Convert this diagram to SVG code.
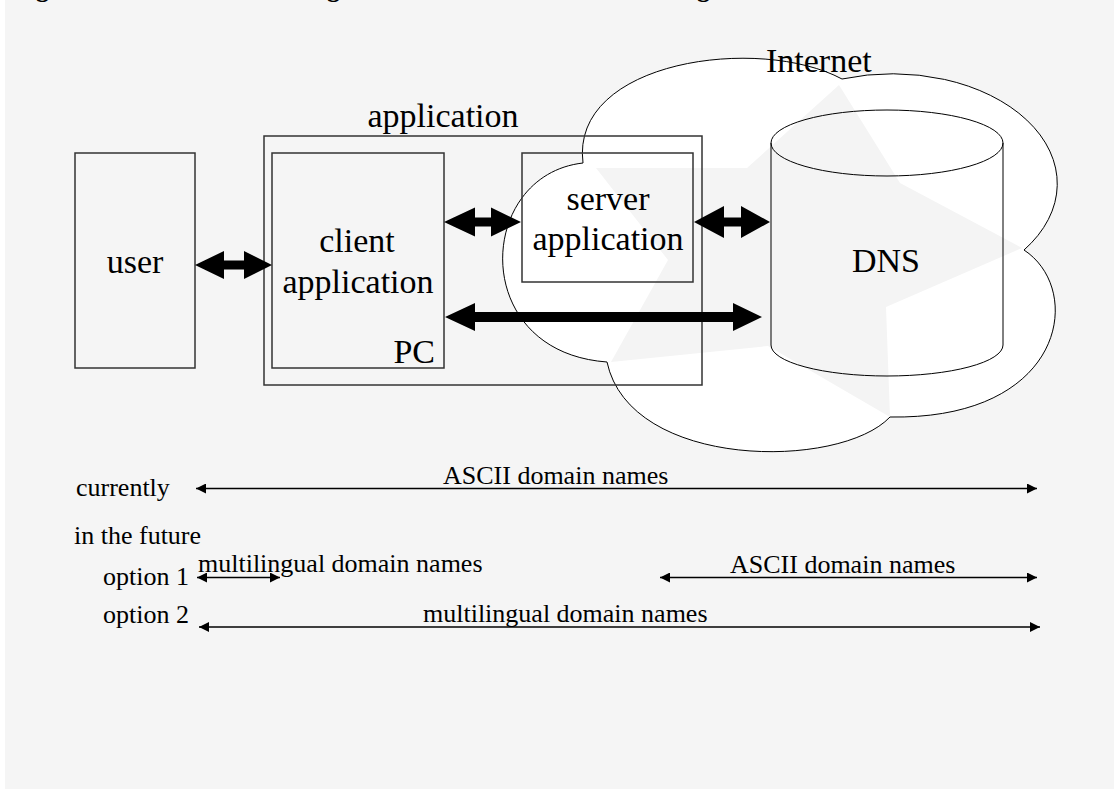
<svg xmlns="http://www.w3.org/2000/svg" width="1114" height="789" viewBox="0 0 1114 789">
  <style>
    .lbl { font-family: "Liberation Serif", "Times New Roman", serif; font-size: 34px; fill: #000; }
    .sm { font-family: "Liberation Serif", "Times New Roman", serif; font-size: 26px; fill: #000; }
    .ttl { font-family: "Liberation Serif", "Times New Roman", serif; font-size: 26px; font-weight: bold; fill: #000; }
    .box { fill: none; stroke: #333; stroke-width: 1.5; }
    .thick { fill: #000; stroke: none; }
    .thin { fill: none; stroke: #000; stroke-width: 1.3; marker-start: url(#tip); marker-end: url(#tip); }
  </style>
  <defs>
    <marker id="tip" viewBox="0 0 10 10" refX="10" refY="5" markerWidth="11" markerHeight="10" markerUnits="userSpaceOnUse" orient="auto-start-reverse">
      <path d="M0,0 L10,5 L0,10 z" fill="#000"/>
    </marker>
  </defs>

  <!-- page -->
  <rect x="0" y="0" width="1114" height="789" fill="#ffffff"/>
  <rect x="5" y="0" width="1109" height="789" fill="#f5f5f5"/>

  <!-- title line, mostly above the top edge -->
  <text class="ttl" x="36" y="-3">g</text>
  <text class="ttl" x="327" y="-3">g</text>
  <text class="ttl" x="697" y="-3">g</text>

  <!-- Internet cloud with faint star pattern -->
  <g id="internet">
    <path d="M583,163 C570,60 760,35 842,79 A165 110 0 0 1 1024,250 C1085,290 1065,420 890,417 C840,470 630,470 607,362 C468,352 476,175 583,163 Z" fill="#ffffff" stroke="#000" stroke-width="1"/>
    <polygon points="839,85 900,183 1022,248 886,307 890,417 768,346 611,362 668,260 596,168 747,168" fill="#f4f4f4" stroke="none"/>
    <text class="lbl" x="766" y="72">Internet</text>
  </g>

  <!-- application frame -->
  <g id="application">
    <rect class="box" x="264" y="136" width="438" height="249"/>
    <text class="lbl" x="443" y="127" text-anchor="middle">application</text>
  </g>

  <g id="user">
    <rect class="box" x="75" y="153" width="120" height="215"/>
    <text class="lbl" x="135" y="273" text-anchor="middle">user</text>
  </g>

  <g id="client">
    <rect class="box" x="272" y="153" width="172" height="215"/>
    <text class="lbl" x="357" y="252" text-anchor="middle">client</text>
    <text class="lbl" x="358" y="293" text-anchor="middle">application</text>
    <text class="lbl" x="435" y="363" text-anchor="end">PC</text>
  </g>

  <g id="server">
    <rect class="box" x="522" y="153" width="171" height="129"/>
    <text class="lbl" x="608" y="210" text-anchor="middle">server</text>
    <text class="lbl" x="608" y="250" text-anchor="middle">application</text>
  </g>

  <g id="dns">
    <path d="M771,143 L771,345 A116 31 0 0 0 1003,345 L1003,143" fill="none" stroke="#000" stroke-width="1"/>
    <ellipse cx="887" cy="143" rx="116" ry="33" fill="none" stroke="#000" stroke-width="1"/>
    <text class="lbl" x="886" y="272" text-anchor="middle">DNS</text>
  </g>

  <!-- connectors -->
  <g id="connectors">
    <!-- user <-> client -->
    <polygon class="thick" points="195,265 224,251 224,260.5 244,260.5 244,251 272,265 244,279 244,269.5 224,269.5 224,279"/>
    <!-- client <-> server -->
    <polygon class="thick" points="444,222 475,207.5 475,217.5 491,217.5 491,207.5 521,222 491,236.5 491,226.5 475,226.5 475,236.5"/>
    <!-- server <-> DNS -->
    <polygon class="thick" points="694,222 724,206 724,217.5 741,217.5 741,206 770,222 741,238 741,226.5 724,226.5 724,238"/>
    <!-- client <-> DNS -->
    <polygon class="thick" points="445,317 475,303 475,312 733,312 733,303 762,317 733,331 733,322 475,322 475,331"/>

    <!-- name ranges -->
    <line class="thin" x1="196" y1="488.5" x2="1037" y2="488.5"/>
    <line class="thin" x1="197" y1="577.5" x2="280" y2="577.5"/>
    <line class="thin" x1="660" y1="577.5" x2="1037" y2="577.5"/>
    <line class="thin" x1="199" y1="627" x2="1040" y2="627"/>
  </g>

  <!-- range labels -->
  <g id="legend">
    <text class="sm" x="76" y="496">currently</text>
    <text class="sm" x="443" y="484">ASCII domain names</text>
    <text class="sm" x="74" y="544">in the future</text>
    <text class="sm" x="103" y="585">option 1</text>
    <text class="sm" x="198" y="572">multilingual domain names</text>
    <text class="sm" x="730" y="573">ASCII domain names</text>
    <text class="sm" x="103" y="623">option 2</text>
    <text class="sm" x="423" y="622">multilingual domain names</text>
  </g>
</svg>
